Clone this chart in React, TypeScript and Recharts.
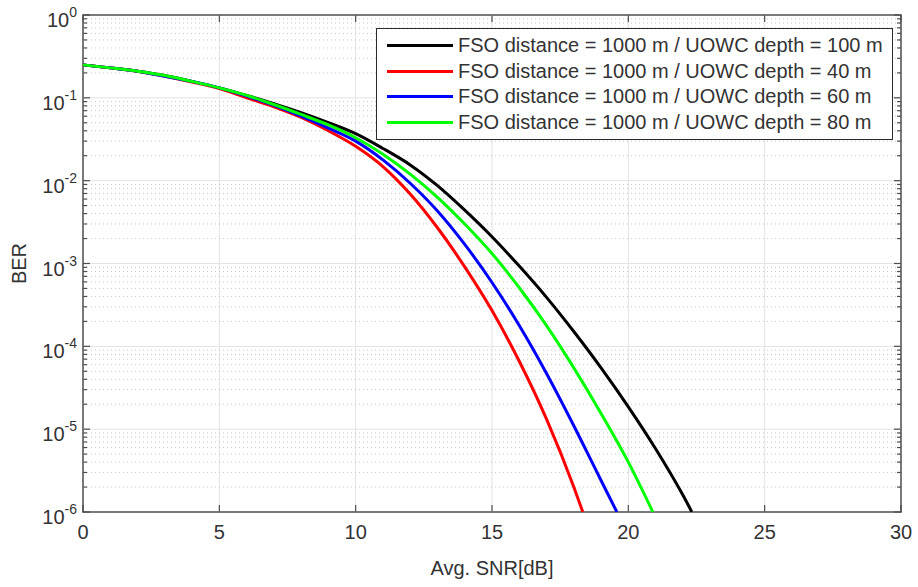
import { LineChart, Line, XAxis, YAxis, ReferenceLine, ReferenceArea, Legend, Label } from 'recharts'

const FONT = '"Liberation Sans", Arial, Helvetica, sans-serif'
const TEXT = '#333333'
const FRAME = '#4d4d4d'

// chart box / plot area (left axis 83px wide, bottom axis 75px high)
const W = 918
const H = 587
const MARGIN = { top: 15, right: 17, bottom: 0, left: 0 }
const Y_AXIS_W = 83
const X_AXIS_H = 75
const PLOT_LEFT = MARGIN.left + Y_AXIS_W
const PLOT_RIGHT = W - MARGIN.right
const PLOT_TOP = MARGIN.top
const PLOT_BOTTOM = H - MARGIN.bottom - X_AXIS_H

// values
const SNR_100 = [0, 1, 2, 3, 4, 5, 6, 7, 8, 9, 10, 11, 12, 13, 14, 15, 16, 17, 18, 19, 20, 21, 22, 22.33]
const BER_100 = [
  0.25, 0.23, 0.21, 0.186, 0.158, 0.132, 0.107, 0.085, 0.066, 0.05, 0.037, 0.0245, 0.0155, 0.0087,
  0.0044, 0.0021, 9.3e-4, 3.9e-4, 1.51e-4, 5.5e-5, 1.86e-5, 5.8e-6, 1.6e-6, 1.0e-6,
]

const SNR_40 = [0, 1, 2, 3, 4, 5, 6, 7, 8, 9, 10, 11, 12, 13, 14, 15, 16, 17, 18, 18.33]
const BER_40 = [
  0.25, 0.23, 0.21, 0.182, 0.155, 0.129, 0.1, 0.078, 0.058, 0.04, 0.026, 0.0148, 0.0069, 0.0027,
  9.1e-4, 2.7e-4, 6.6e-5, 1.32e-5, 2.0e-6, 1.0e-6,
]

const SNR_60 = [0, 1, 2, 3, 4, 5, 6, 7, 8, 9, 10, 11, 12, 13, 14, 15, 16, 17, 18, 19, 19.58]
const BER_60 = [
  0.25, 0.23, 0.21, 0.182, 0.158, 0.132, 0.105, 0.081, 0.06, 0.043, 0.03, 0.0178, 0.0093, 0.0043,
  0.0017, 5.9e-4, 1.78e-4, 4.7e-5, 1.1e-5, 2.4e-6, 1.0e-6,
]

const SNR_80 = [0, 1, 2, 3, 4, 5, 6, 7, 8, 9, 10, 11, 12, 13, 14, 15, 16, 17, 18, 19, 20, 20.9]
const BER_80 = [
  0.25, 0.23, 0.21, 0.186, 0.158, 0.132, 0.107, 0.083, 0.063, 0.047, 0.033, 0.0209, 0.012, 0.0063,
  0.003, 0.00132, 5.1e-4, 1.78e-4, 5.5e-5, 1.55e-5, 4.0e-6, 1.0e-6,
]

const SERIES = [
  { name: 'FSO distance = 1000 m / UOWC depth = 100 m', color: '#000000', snr: SNR_100, ber: BER_100 },
  { name: 'FSO distance = 1000 m / UOWC depth = 40 m', color: '#ff0000', snr: SNR_40, ber: BER_40 },
  { name: 'FSO distance = 1000 m / UOWC depth = 60 m', color: '#0000ff', snr: SNR_60, ber: BER_60 },
  { name: 'FSO distance = 1000 m / UOWC depth = 80 m', color: '#00ff00', snr: SNR_80, ber: BER_80 },
]

const X_TICKS = [0, 5, 10, 15, 20, 25, 30]
const X_GRID = [5, 10, 15, 20, 25]
const DECADE_EXPONENTS = [-6, -5, -4, -3, -2, -1, 0]

const DECADES = DECADE_EXPONENTS.map((e) => Math.pow(10, e))
const MINORS: number[] = []
DECADE_EXPONENTS.slice(0, -1).forEach((e) => {
  for (let m = 2; m <= 9; m++) MINORS.push(m * Math.pow(10, e))
})
const Y_TICKS = [...DECADES, ...MINORS].sort((a, b) => a - b)

const isDecade = (v: number) => Math.abs(Math.log10(v) - Math.round(Math.log10(v))) < 1e-9

function XTick(props: any) {
  const { x, payload } = props
  return (
    <g>
      <line x1={x} x2={x} y1={PLOT_BOTTOM} y2={PLOT_BOTTOM - 7} stroke={FRAME} strokeWidth={1.2} />
      <line x1={x} x2={x} y1={PLOT_TOP} y2={PLOT_TOP + 7} stroke={FRAME} strokeWidth={1.2} />
      <text x={x} y={PLOT_BOTTOM + 27} textAnchor="middle" fontSize={20} fill={TEXT} fontFamily={FONT}>
        {payload.value}
      </text>
    </g>
  )
}

function YTick(props: any) {
  const { y, payload } = props
  const major = isDecade(payload.value)
  const len = major ? 7 : 4
  return (
    <g>
      <line x1={PLOT_LEFT} x2={PLOT_LEFT + len} y1={y} y2={y} stroke={FRAME} strokeWidth={1.2} />
      <line x1={PLOT_RIGHT} x2={PLOT_RIGHT - len} y1={y} y2={y} stroke={FRAME} strokeWidth={1.2} />
      {major && (
        <text x={77} y={y + 12} textAnchor="end" fontSize={20} fill={TEXT} fontFamily={FONT}>
          <tspan>10</tspan>
          <tspan dy={-10} fontSize={14}>
            {Math.round(Math.log10(payload.value))}
          </tspan>
        </text>
      )}
    </g>
  )
}

function LegendBox(props: any) {
  const items = props.payload ?? []
  return (
    <div
      style={{
        border: '1px solid #2b2b2b',
        background: '#ffffff',
        width: 515,
        padding: '4px 0',
        fontFamily: FONT,
        fontSize: 20,
        color: TEXT,
      }}
    >
      {items.map((item: any) => (
        <div key={item.value} style={{ display: 'flex', alignItems: 'center', height: 25.5 }}>
          <div style={{ width: 66, height: 3, background: item.color, marginLeft: 10, marginRight: 5 }} />
          <span style={{ whiteSpace: 'nowrap' }}>{item.value}</span>
        </div>
      ))}
    </div>
  )
}

export default function App() {
  const lines = SERIES.map((s) => ({
    ...s,
    rows: s.snr.map((snr, i) => ({ snr, ber: s.ber[i] })),
  }))

  return (
    <div style={{ position: 'absolute', left: 0, top: 0, width: W, height: H, background: '#fff' }}>
      <LineChart width={W} height={H} margin={MARGIN}>
        <XAxis
          dataKey="snr"
          type="number"
          domain={[0, 30]}
          ticks={X_TICKS}
          interval={0}
          tick={<XTick />}
          tickLine={false}
          axisLine={false}
          height={X_AXIS_H}
        >
          <Label
            content={() => (
              <text
                x={(PLOT_LEFT + PLOT_RIGHT) / 2}
                y={575}
                textAnchor="middle"
                fontSize={20}
                fill={TEXT}
                fontFamily={FONT}
              >
                Avg. SNR[dB]
              </text>
            )}
          />
        </XAxis>
        <YAxis
          type="number"
          scale="log"
          domain={[1e-6, 1]}
          allowDataOverflow
          ticks={Y_TICKS}
          interval={0}
          tick={<YTick />}
          tickLine={false}
          axisLine={false}
          width={Y_AXIS_W}
        >
          <Label
            content={() => {
              const cy = (PLOT_TOP + PLOT_BOTTOM) / 2
              return (
                <text
                  x={26}
                  y={cy}
                  transform={`rotate(-90, 26, ${cy})`}
                  textAnchor="middle"
                  fontSize={20}
                  fill={TEXT}
                  fontFamily={FONT}
                >
                  BER
                </text>
              )
            }}
          />
        </YAxis>

        {X_GRID.map((v) => (
          <ReferenceLine key={`vx${v}`} x={v} stroke="#e3e3e3" strokeWidth={1} />
        ))}
        {DECADES.slice(1, -1).map((v) => (
          <ReferenceLine key={`hd${v}`} y={v} stroke="#e3e3e3" strokeWidth={1} />
        ))}
        {MINORS.map((v) => (
          <ReferenceLine key={`hm${v}`} y={v} stroke="#c8c8c8" strokeWidth={1} strokeDasharray="1 3" />
        ))}

        {lines.map((s) => (
          <Line
            key={s.name}
            data={s.rows}
            dataKey="ber"
            name={s.name}
            type="monotone"
            stroke={s.color}
            strokeWidth={3}
            dot={false}
            activeDot={false}
            isAnimationActive={false}
          />
        ))}

        <ReferenceArea x1={0} x2={30} y1={1e-6} y2={1} fill="none" stroke={FRAME} strokeWidth={1.5} />

        <Legend
          layout="vertical"
          align="center"
          verticalAlign="middle"
          content={<LegendBox />}
          wrapperStyle={{ left: 376, top: 28, width: 'auto', height: 'auto' }}
        />
      </LineChart>
    </div>
  )
}
